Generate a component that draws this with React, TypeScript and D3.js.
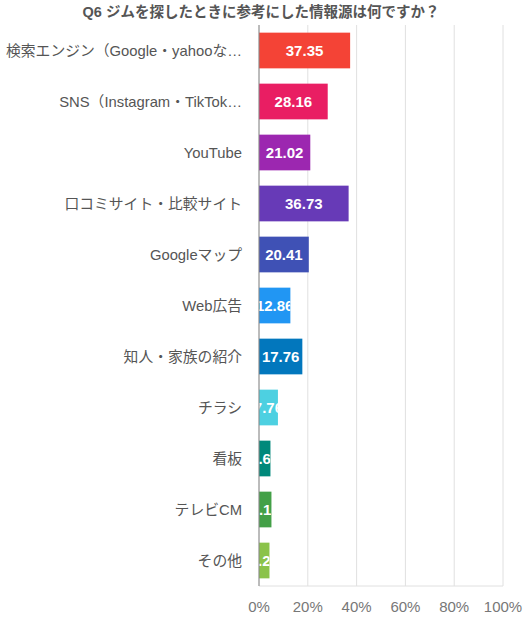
import React from 'react';
import * as d3 from 'd3';

const categories = [
  '検索エンジン（Google・yahooなど）',
  'SNS（Instagram・TikTokなど）',
  'YouTube',
  '口コミサイト・比較サイト',
  'Googleマップ',
  'Web広告',
  '知人・家族の紹介',
  'チラシ',
  '看板',
  'テレビCM',
  'その他',
];
const values = [37.35, 28.16, 21.02, 36.73, 20.41, 12.86, 17.76, 7.76, 4.69, 5.1, 4.29];
const colors = [
  '#f44336', '#e91e63', '#9c27b0', '#673ab7', '#3f51b5', '#2196f3',
  '#0277bd', '#4dd0e1', '#00897b', '#43a047', '#8bc34a',
];
const ticks = [0, 20, 40, 60, 80, 100];
const title = 'Q6 ジムを探したときに参考にした情報源は何ですか？';

const W = 527;
const H = 625;
const margin = { top: 25, right: 24, bottom: 39, left: 259 };
const font = '"Liberation Sans", Arial, "Noto Sans CJK JP", sans-serif';

// long category names get cut after 20 characters
function shorten(s: string) {
  return s.length > 20 ? s.slice(0, 20) + '…' : s;
}

export default function App() {
  const x = d3.scaleLinear().domain([0, 100]).range([margin.left, W - margin.right]);
  const y = d3
    .scaleBand<string>()
    .domain(categories)
    .range([margin.top, H - margin.bottom])
    .paddingInner(0.3)
    .paddingOuter(0.15);

  return (
    <svg
      width={W}
      height={H}
      style={{ position: 'absolute', left: 0, top: 0, display: 'block', background: '#fff' }}
      fontFamily={font}
    >
      <text x={261} y={17} textAnchor="middle" fontSize={14.5} fontWeight="bold" fill="#555">
        {title}
      </text>
      {ticks.map((t) => (
        <line key={t} x1={x(t)} x2={x(t)} y1={margin.top} y2={H - margin.bottom} stroke="#e0e0e0" />
      ))}
      <line x1={x(0)} x2={x(100)} y1={H - margin.bottom} y2={H - margin.bottom} stroke="#e0e0e0" />
      {ticks.map((t) => (
        <text key={'t' + t} x={x(t)} y={H - 13} textAnchor="middle" fontSize={15} fill="#777">
          {t}%
        </text>
      ))}
      <defs>
        {categories.map((c, i) => (
          <clipPath key={c} id={`clip-${i}`}>
            <rect x={x(0)} y={y(c)} width={x(values[i]) - x(0)} height={y.bandwidth()} />
          </clipPath>
        ))}
      </defs>
      {categories.map((c, i) => {
        const cy = y(c)! + y.bandwidth() / 2;
        return (
          <g key={c}>
            <text x={242} y={cy} dy="0.35em" textAnchor="end" fontSize={14.8} fill="#555">
              {shorten(c)}
            </text>
            <rect x={x(0)} y={y(c)} width={x(values[i]) - x(0)} height={y.bandwidth()} fill={colors[i]} />
            <text
              x={(x(0) + x(values[i])) / 2}
              y={cy}
              dy="0.35em"
              textAnchor="middle"
              fontSize={15}
              fontWeight="bold"
              fill="#fff"
              clipPath={`url(#clip-${i})`}
            >
              {values[i].toFixed(2)}
            </text>
          </g>
        );
      })}
      <line x1={x(0)} x2={x(0)} y1={margin.top} y2={H - margin.bottom} stroke="#888" />
    </svg>
  );
}
